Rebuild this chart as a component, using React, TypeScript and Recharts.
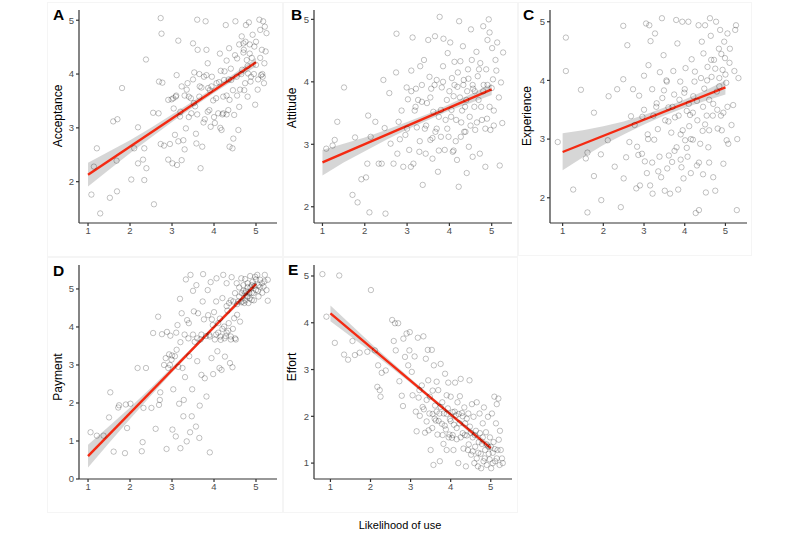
import React from 'react';
import { ComposedChart, Scatter, Line, Area, XAxis, YAxis } from 'recharts';

type Pt = [number, number];
type Band = [number, number, number];

const xTicks = [1, 2, 3, 4, 5];
const xLabel = 'Likelihood of use';

// A - Acceptance
const acceptancePoints: Pt[] = [
  [1.08, 1.76], [1.29, 1.41], [1.21, 2.62], [1.14, 2.28], [1.52, 1.7], [1.69, 1.82], [1.68, 2.39], [1.6, 3.12],
  [1.7, 3.16], [1.81, 3.74], [2.03, 2.04], [2.19, 3.01], [2.1, 2.62], [2.19, 2.34], [2.31, 2.41], [2.34, 2.03],
  [2.39, 2.25], [2.38, 4.27], [2.34, 2.62], [2.57, 1.58], [2.55, 3.28], [2.68, 3.27], [2.73, 5.04], [2.75, 4.75],
  [2.69, 3.86], [2.77, 3.84], [2.73, 2.7], [2.81, 2.67], [2.91, 2.41], [3.01, 2.34], [2.99, 3.53], [3.04, 3.36],
  [3.07, 2.87], [3.11, 3.98], [3.15, 4.62], [3.23, 2.4], [3.12, 2.31], [3.09, 3.58], [3.19, 3.21], [3.27, 2.77],
  [3.33, 2.99], [3.37, 3.83], [3.4, 3.58], [3.46, 3.27], [3.5, 4.57], [3.53, 4.03], [3.57, 2.89], [3.58, 2.71],
  [3.6, 5.01], [3.61, 4.45], [3.65, 3.58], [3.68, 2.25], [3.72, 2.65], [3.76, 3.95], [3.78, 3.16], [3.8, 4.98],
  [3.82, 4.45], [3.85, 4.2], [3.86, 3.74], [3.89, 3.33], [3.92, 3.02], [3.98, 3.51], [4.02, 3.09], [4.06, 3.83],
  [4.1, 3.27], [4.14, 4.38], [4.16, 4.06], [4.18, 2.96], [4.22, 3.58], [4.24, 3.89], [4.28, 4.91], [4.3, 4.25],
  [4.34, 3.33], [4.36, 4.48], [4.37, 3.52], [4.41, 3.89], [4.44, 2.62], [4.46, 2.8], [4.48, 3.24], [4.51, 4.98],
  [4.54, 3.95], [4.55, 4.29], [4.58, 2.96], [4.6, 3.39], [4.62, 3.71], [4.66, 4.7], [4.67, 4.08], [4.7, 4.57],
  [4.71, 4.45], [4.74, 3.83], [4.76, 4.91], [4.78, 4.26], [4.8, 3.58], [4.81, 4.01], [4.83, 4.96], [4.85, 4.38],
  [4.87, 3.86], [4.92, 4.73], [4.96, 4.51], [4.98, 3.43], [5.0, 4.17], [5.04, 3.71], [5.08, 5.01], [5.1, 4.82],
  [5.12, 3.98], [5.14, 4.45], [5.17, 4.98], [5.19, 3.83], [5.21, 4.88], [5.23, 4.42], [5.25, 4.76], [5.16, 3.95],
  [3.82, 3.98], [3.94, 3.77], [3.66, 3.77], [3.52, 3.46], [3.35, 3.71], [3.23, 3.77], [3.03, 3.55], [2.91, 3.52],
  [4.22, 3.27], [4.37, 2.65], [3.3, 3.6], [3.45, 3.55], [3.55, 3.4], [3.7, 3.75], [3.75, 3.1], [3.9, 3.7],
  [3.95, 3.95], [4.05, 3.55], [4.12, 3.85], [4.2, 3.25], [4.25, 4.05], [4.3, 3.6], [4.35, 3.9], [4.4, 4.1],
  [4.45, 3.7], [4.5, 4.35], [4.55, 3.6], [4.6, 4.55], [4.65, 4.0], [4.7, 4.4], [4.72, 3.7], [4.75, 4.6],
  [4.8, 4.15], [4.85, 4.55], [4.88, 3.95], [4.9, 4.3], [4.95, 4.0], [5.0, 4.6], [5.05, 3.9], [5.1, 4.3],
  [5.15, 4.0], [5.2, 4.2], [3.1, 3.6], [3.2, 3.3], [3.4, 3.2], [3.6, 3.25], [3.85, 3.3], [4.0, 3.2],
  [4.15, 3.0], [4.3, 3.25], [3.5, 3.9], [3.65, 4.0], [2.95, 2.7], [3.15, 2.75], [3.3, 2.6],
];
const acceptanceFit: Pt[] = [[1, 2.13], [5, 4.22]];
const acceptanceBand: Band[] = [
  [1, 1.91, 2.35], [1.5, 2.22, 2.56], [2, 2.53, 2.77], [2.5, 2.82, 3.0], [3, 3.11, 3.25],
  [3.5, 3.385, 3.495], [4, 3.65, 3.75], [4.5, 3.9, 4.02], [5, 4.14, 4.3],
];

// B - Attitude
const attitudePoints: Pt[] = [
  [1.09, 2.93], [1.24, 2.98], [1.29, 3.07], [1.35, 3.36], [1.51, 3.91], [1.71, 2.19], [1.77, 3.11], [1.83, 2.07],
  [1.92, 2.44], [2.03, 2.47], [2.06, 2.69], [2.08, 3.46], [2.11, 1.91], [2.14, 3.12], [2.25, 3.36], [2.33, 2.69],
  [2.4, 2.69], [2.44, 4.03], [2.47, 3.26], [2.49, 1.89], [2.58, 3.82], [2.61, 3.01], [2.68, 2.69], [2.74, 4.15],
  [2.75, 4.77], [2.77, 2.85], [2.8, 3.36], [2.83, 3.08], [2.87, 3.54], [2.91, 2.64], [2.96, 3.15], [2.99, 3.91],
  [3.02, 3.72], [3.05, 2.91], [3.09, 2.64], [3.1, 4.18], [3.13, 4.71], [3.15, 2.69], [3.18, 3.54], [3.21, 3.89],
  [3.23, 3.27], [3.26, 3.71], [3.29, 2.88], [3.31, 4.25], [3.35, 3.68], [3.37, 2.35], [3.4, 4.35], [3.42, 3.25],
  [3.44, 2.85], [3.47, 3.66], [3.5, 4.67], [3.53, 4.08], [3.55, 3.07], [3.57, 3.89], [3.6, 2.77], [3.62, 3.52],
  [3.66, 4.73], [3.67, 3.2], [3.7, 4.03], [3.73, 2.56], [3.75, 3.44], [3.77, 5.04], [3.8, 3.12], [3.82, 3.91],
  [3.85, 4.25], [3.86, 4.69], [3.89, 2.91], [3.91, 3.39], [3.94, 3.71], [3.96, 4.46], [3.98, 3.12], [4.02, 4.63],
  [4.04, 3.44], [4.06, 4.06], [4.08, 2.88], [4.1, 3.77], [4.12, 4.32], [4.16, 3.39], [4.18, 2.75], [4.19, 3.92],
  [4.22, 2.32], [4.23, 4.97], [4.26, 4.33], [4.27, 3.12], [4.3, 3.54], [4.32, 4.57], [4.34, 4.03], [4.38, 3.2],
  [4.4, 3.71], [4.41, 2.54], [4.44, 4.2], [4.46, 2.96], [4.48, 3.44], [4.51, 4.84], [4.53, 4.35], [4.56, 3.89],
  [4.59, 3.6], [4.61, 3.23], [4.64, 4.48], [4.67, 4.09], [4.69, 3.71], [4.72, 2.85], [4.73, 4.3], [4.77, 3.39],
  [4.8, 4.89], [4.81, 3.95], [4.85, 2.64], [4.87, 4.2], [4.89, 3.41], [4.9, 4.67], [4.93, 5.0], [4.95, 4.79],
  [4.97, 3.23], [5.01, 4.54], [5.03, 4.04], [5.05, 3.54], [5.09, 4.35], [5.11, 4.18], [5.13, 4.63], [5.17, 3.75],
  [5.19, 2.66], [5.22, 3.99], [5.25, 3.34], [5.27, 4.47], [3.2, 3.6], [3.35, 3.95], [3.45, 3.3], [3.55, 3.75],
  [3.65, 3.95], [3.7, 3.25], [3.8, 3.55], [3.85, 4.0], [3.95, 3.25], [4.0, 3.85], [4.05, 3.55], [4.12, 3.95],
  [4.15, 3.05], [4.2, 4.15], [4.25, 3.75], [4.28, 3.35], [4.33, 3.95], [4.37, 3.6], [4.42, 3.85], [4.45, 4.05],
  [4.5, 3.3], [4.55, 3.95], [4.6, 3.85], [4.65, 3.35], [4.7, 4.2], [4.75, 3.6], [4.8, 3.85], [4.85, 3.25],
  [4.9, 3.95], [4.95, 3.6], [5.0, 3.9], [5.05, 3.3], [3.0, 3.25], [3.1, 3.85], [3.3, 3.05], [3.6, 3.1],
  [3.75, 2.9], [4.1, 2.9], [4.35, 3.2], [4.55, 2.8],
];
const attitudeFit: Pt[] = [[1, 2.71], [5, 3.88]];
const attitudeBand: Band[] = [
  [1, 2.5, 2.91], [1.5, 2.71, 3.01], [2, 2.89, 3.11], [2.5, 3.07, 3.23], [3, 3.235, 3.355],
  [3.5, 3.39, 3.49], [4, 3.54, 3.64], [4.5, 3.66, 3.8], [5, 3.79, 3.97],
];

// C - Experience
const experiencePoints: Pt[] = [
  [0.88, 2.95], [1.08, 4.73], [1.08, 4.16], [1.26, 2.14], [1.45, 3.84], [1.57, 2.67], [1.61, 2.77], [1.61, 1.75],
  [1.77, 2.37], [1.77, 3.45], [1.94, 2.74], [1.95, 1.96], [2.11, 2.98], [2.13, 3.73], [2.28, 2.53], [2.34, 3.85],
  [2.43, 1.84], [2.49, 4.93], [2.49, 4.02], [2.5, 2.33], [2.56, 2.69], [2.59, 4.6], [2.64, 2.95], [2.68, 3.39],
  [2.73, 3.85], [2.77, 3.24], [2.81, 2.16], [2.83, 2.87], [2.86, 2.73], [2.88, 3.74], [2.9, 2.21], [2.96, 3.38],
  [3.0, 4.08], [3.02, 2.62], [3.05, 4.97], [3.07, 2.42], [3.09, 3.08], [3.11, 4.26], [3.13, 4.94], [3.15, 2.21],
  [3.16, 4.67], [3.2, 3.85], [3.21, 2.07], [3.23, 3.4], [3.25, 2.99], [3.27, 4.8], [3.31, 3.61], [3.34, 3.17],
  [3.38, 2.7], [3.39, 4.14], [3.42, 2.35], [3.44, 5.06], [3.48, 4.43], [3.49, 3.83], [3.51, 2.12], [3.52, 3.32],
  [3.56, 3.98], [3.57, 2.5], [3.6, 3.54], [3.61, 2.72], [3.64, 2.07], [3.67, 3.11], [3.69, 2.61], [3.72, 4.16],
  [3.74, 3.76], [3.76, 3.37], [3.79, 5.03], [3.8, 2.86], [3.82, 4.63], [3.84, 2.14], [3.87, 3.67], [3.89, 3.98],
  [3.9, 3.08], [3.92, 2.52], [3.94, 5.0], [3.97, 2.33], [3.99, 3.79], [4.01, 2.98], [4.02, 4.21], [4.05, 3.48],
  [4.07, 2.7], [4.09, 5.0], [4.11, 3.22], [4.13, 3.41], [4.15, 2.42], [4.17, 4.36], [4.2, 2.99], [4.21, 3.73],
  [4.24, 3.98], [4.27, 1.74], [4.3, 2.55], [4.31, 3.32], [4.34, 4.94], [4.35, 1.79], [4.38, 2.92], [4.4, 4.04],
  [4.42, 4.66], [4.44, 3.14], [4.46, 4.46], [4.48, 3.86], [4.5, 4.94], [4.52, 2.09], [4.54, 3.4], [4.56, 4.23],
  [4.58, 2.86], [4.6, 3.67], [4.62, 5.06], [4.64, 4.76], [4.66, 4.06], [4.69, 3.4], [4.7, 2.35], [4.72, 4.35],
  [4.75, 2.12], [4.77, 5.0], [4.79, 3.81], [4.81, 3.18], [4.84, 4.54], [4.85, 4.04], [4.87, 4.86], [4.89, 3.4],
  [4.91, 3.15], [4.93, 4.18], [4.95, 2.58], [4.97, 4.66], [4.99, 4.38], [5.02, 3.96], [5.03, 2.98], [5.05, 4.8],
  [5.07, 2.92], [5.11, 4.54], [5.15, 3.24], [5.19, 3.58], [5.22, 4.16], [5.26, 4.94], [5.28, 1.79], [5.29, 3.0],
  [5.32, 4.04], [5.24, 4.86], [3.3, 3.55], [3.45, 3.7], [3.55, 4.0], [3.6, 3.3], [3.7, 3.55], [3.75, 2.8],
  [3.85, 3.4], [3.95, 3.15], [4.0, 3.85], [4.05, 2.85], [4.1, 3.6], [4.15, 3.0], [4.2, 3.45], [4.25, 4.15],
  [4.3, 3.65], [4.35, 2.6], [4.45, 3.55], [4.5, 3.25], [4.55, 4.0], [4.6, 3.15], [4.65, 4.35], [4.7, 3.6],
  [4.75, 4.2], [4.8, 3.5], [4.85, 3.9], [4.9, 4.45], [4.95, 3.45], [5.0, 4.1], [5.05, 3.55], [5.1, 4.3],
  [3.2, 2.6], [3.35, 2.45], [3.9, 2.65], [4.45, 2.4], [4.6, 2.6], [3.0, 3.5], [3.1, 3.0], [2.95, 2.75],
];
const experienceFit: Pt[] = [[1, 2.78], [5, 3.88]];
const experienceBand: Band[] = [
  [1, 2.47, 3.1], [1.5, 2.69, 3.15], [2, 2.9, 3.22], [2.5, 3.08, 3.3], [3, 3.25, 3.41],
  [3.5, 3.4, 3.54], [4, 3.535, 3.675], [4.5, 3.65, 3.83], [5, 3.76, 4.0],
];

// D - Payment
const paymentPoints: Pt[] = [
  [1.06, 1.23], [1.21, 1.14], [1.37, 1.14], [1.5, 1.62], [1.53, 2.28], [1.61, 0.72], [1.72, 1.88], [1.74, 1.94],
  [1.88, 0.68], [1.9, 1.96], [1.93, 1.34], [2.01, 1.98], [2.18, 2.92], [2.28, 0.73], [2.3, 0.97], [2.32, 1.87],
  [2.38, 2.92], [2.51, 1.87], [2.55, 3.84], [2.61, 1.32], [2.67, 4.27], [2.69, 1.95], [2.71, 2.08], [2.72, 2.28],
  [2.76, 3.81], [2.81, 3.0], [2.85, 3.18], [2.87, 0.79], [2.88, 3.87], [2.91, 2.92], [2.93, 3.28], [2.96, 3.77],
  [2.99, 3.14], [3.01, 1.3], [3.03, 2.36], [3.07, 3.23], [3.09, 1.12], [3.11, 3.4], [3.13, 4.05], [3.17, 1.98],
  [3.19, 4.74], [3.2, 0.81], [3.23, 4.36], [3.25, 2.92], [3.27, 1.65], [3.28, 2.08], [3.31, 2.68], [3.33, 5.25],
  [3.35, 0.99], [3.36, 4.18], [3.39, 3.7], [3.41, 3.23], [3.43, 1.23], [3.44, 5.37], [3.47, 1.65], [3.48, 2.36],
  [3.5, 4.95], [3.52, 4.41], [3.54, 3.61], [3.57, 1.38], [3.58, 5.1], [3.6, 3.1], [3.62, 4.36], [3.65, 1.08],
  [3.66, 1.93], [3.68, 3.67], [3.7, 2.74], [3.73, 4.67], [3.74, 5.39], [3.76, 4.2], [3.78, 2.65], [3.81, 3.76],
  [3.82, 2.17], [3.85, 4.97], [3.86, 4.31], [3.89, 3.79], [3.9, 0.7], [3.92, 5.18], [3.94, 3.18], [3.97, 4.05],
  [3.98, 2.76], [4.0, 4.39], [4.02, 3.67], [4.05, 4.67], [4.06, 5.28], [4.08, 3.36], [4.1, 3.85], [4.13, 2.92],
  [4.14, 4.22], [4.16, 3.66], [4.18, 2.87], [4.2, 4.76], [4.22, 5.37], [4.24, 4.01], [4.26, 3.22], [4.28, 3.76],
  [4.3, 5.15], [4.32, 4.43], [4.34, 3.9], [4.36, 4.63], [4.38, 3.05], [4.4, 3.67], [4.42, 5.31], [4.44, 2.94],
  [4.46, 4.67], [4.48, 4.23], [4.5, 4.89], [4.52, 3.67], [4.54, 5.15], [4.55, 4.32], [4.58, 4.67], [4.6, 5.04],
  [4.62, 4.14], [4.65, 5.28], [4.66, 4.89], [4.68, 4.67], [4.7, 5.1], [4.72, 4.63], [4.74, 5.26], [4.76, 4.94],
  [4.78, 4.8], [4.8, 5.15], [4.82, 4.63], [4.84, 4.89], [4.86, 5.34], [4.87, 5.04], [4.9, 4.71], [4.92, 5.19],
  [4.94, 4.89], [4.96, 5.08], [4.98, 5.32], [5.0, 4.97], [5.03, 5.37], [5.06, 5.1], [5.1, 5.24], [5.14, 5.15],
  [5.18, 5.06], [5.21, 5.37], [5.25, 4.97], [5.28, 5.24], [5.28, 4.69], [5.06, 4.8], [4.74, 4.89], [4.05, 3.8],
  [4.1, 4.1], [4.15, 3.75], [4.2, 3.95], [4.25, 3.7], [4.3, 3.85], [4.35, 4.1], [4.4, 3.75], [4.45, 3.95],
  [4.5, 3.7], [4.55, 4.6], [4.6, 4.8], [4.65, 4.65], [4.7, 4.95], [4.75, 4.7], [4.8, 5.05], [4.85, 4.75],
  [4.9, 5.1], [4.95, 4.7], [5.0, 5.25], [5.05, 4.95], [5.1, 5.05], [5.15, 4.9], [5.2, 5.2], [4.9, 4.9],
  [4.8, 4.8], [3.9, 3.75], [3.95, 4.2], [3.7, 3.8], [3.6, 3.7], [3.5, 3.8], [3.4, 4.1], [3.3, 3.8],
  [3.2, 3.6], [3.1, 3.85], [3.0, 3.25], [2.95, 3.0], [3.15, 2.95], [4.4, 4.7], [4.3, 4.55],
];
const paymentFit: Pt[] = [[1, 0.6], [5, 5.13]];
const paymentBand: Band[] = [
  [1, 0.3, 0.9], [1.5, 0.95, 1.39], [2, 1.58, 1.88], [2.5, 2.2, 2.4], [3, 2.8, 2.94],
  [3.5, 3.38, 3.48], [4, 3.95, 4.05], [4.5, 4.5, 4.62], [5, 5.05, 5.21],
];

// E - Effort
const effortPoints: Pt[] = [
  [0.8, 5.04], [0.9, 4.13], [1.22, 5.01], [1.11, 3.57], [1.34, 3.32], [1.44, 3.21], [1.55, 3.61], [1.61, 3.31],
  [1.73, 3.36], [1.92, 3.38], [2.01, 4.7], [2.11, 3.41], [2.17, 2.63], [2.19, 3.09], [2.23, 2.56], [2.25, 2.42],
  [2.28, 2.93], [2.38, 2.98], [2.54, 4.06], [2.58, 3.61], [2.61, 3.99], [2.63, 3.41], [2.69, 3.99], [2.72, 2.75],
  [2.78, 2.44], [2.81, 2.22], [2.82, 3.66], [2.86, 3.27], [2.9, 3.77], [2.94, 3.09], [2.97, 3.41], [2.98, 3.8],
  [3.03, 2.95], [3.05, 2.45], [3.1, 3.28], [3.13, 2.1], [3.15, 1.68], [3.18, 3.68], [3.22, 2.56], [3.23, 2.01],
  [3.28, 2.66], [3.32, 3.71], [3.33, 2.15], [3.36, 1.65], [3.38, 3.23], [3.4, 1.89], [3.43, 3.42], [3.44, 2.77],
  [3.47, 2.06], [3.48, 2.42], [3.5, 1.28], [3.53, 3.42], [3.54, 1.75], [3.57, 0.96], [3.58, 3.09], [3.61, 2.23],
  [3.63, 1.91], [3.65, 2.74], [3.67, 1.61], [3.69, 2.56], [3.72, 2.06], [3.73, 1.04], [3.75, 3.12], [3.78, 1.84],
  [3.79, 2.3], [3.82, 1.41], [3.83, 2.06], [3.86, 2.91], [3.88, 1.72], [3.9, 1.28], [3.93, 2.17], [3.94, 2.72],
  [3.97, 1.61], [3.98, 1.94], [4.0, 2.42], [4.03, 1.54], [4.05, 2.09], [4.07, 1.28], [4.08, 1.82], [4.11, 2.72],
  [4.13, 2.02], [4.15, 1.51], [4.17, 2.3], [4.19, 1.0], [4.22, 1.85], [4.23, 2.43], [4.25, 2.8], [4.28, 2.07],
  [4.3, 1.64], [4.32, 1.31], [4.34, 2.19], [4.36, 1.85], [4.38, 0.93], [4.4, 1.59], [4.43, 1.28], [4.44, 2.06],
  [4.47, 2.77], [4.48, 1.78], [4.51, 1.18], [4.53, 2.26], [4.55, 1.55], [4.57, 1.99], [4.59, 1.0], [4.61, 1.35],
  [4.63, 1.69], [4.65, 2.3], [4.68, 0.93], [4.69, 1.22], [4.72, 2.06], [4.73, 1.64], [4.76, 0.89], [4.78, 1.41],
  [4.8, 1.85], [4.82, 1.04], [4.83, 2.19], [4.86, 1.28], [4.88, 1.66], [4.9, 0.96], [4.93, 1.99], [4.94, 1.35],
  [4.97, 1.08], [4.98, 1.55], [5.01, 0.89], [5.03, 2.06], [5.05, 1.22], [5.07, 1.45], [5.09, 2.42], [5.11, 1.04],
  [5.13, 1.85], [5.15, 2.26], [5.17, 1.28], [5.19, 2.38], [5.22, 0.96], [5.23, 1.69], [5.25, 1.28], [5.28, 1.1],
  [5.3, 1.0], [3.55, 2.05], [3.6, 1.95], [3.65, 2.1], [3.7, 1.9], [3.75, 2.2], [3.8, 1.6], [3.85, 1.8],
  [3.9, 2.05], [3.95, 1.55], [4.0, 1.9], [4.05, 1.6], [4.1, 2.1], [4.15, 1.75], [4.2, 2.05], [4.25, 1.55],
  [4.3, 2.0], [4.35, 1.6], [4.4, 1.95], [4.45, 1.4], [4.5, 1.65], [4.55, 1.25], [4.6, 1.6], [4.65, 1.1],
  [4.7, 1.45], [4.75, 1.2], [4.8, 1.55], [4.85, 1.1], [4.9, 1.4], [4.95, 1.2], [5.0, 1.35], [5.05, 1.0],
  [5.1, 1.3], [5.15, 1.1], [5.2, 1.5], [3.4, 2.35], [3.3, 2.2], [3.2, 2.4], [3.45, 1.7], [3.55, 2.55],
  [3.9, 2.45],
];
const effortFit: Pt[] = [[1, 4.2], [5, 1.32]];
const effortBand: Band[] = [
  [1, 4.03, 4.37], [1.5, 3.71, 3.97], [2, 3.39, 3.57], [2.5, 3.055, 3.185], [3, 2.71, 2.81],
  [3.5, 2.36, 2.44], [4, 2.0, 2.08], [4.5, 1.63, 1.73], [5, 1.25, 1.39],
];

// layout: plot rectangle in page pixels, domains, label anchors
const panels = [
  { letter: 'A', title: 'Acceptance', points: acceptancePoints, fit: acceptanceFit, band: acceptanceBand,
    yTicks: [2, 3, 4, 5], xDomain: [0.785, 5.5], yDomain: [1.232, 5.19],
    x0: 79, x1: 277, y0: 10, y1: 223, lx: 53, ly: 20, tx: 61.5, ty: 116 },
  { letter: 'B', title: 'Attitude', points: attitudePoints, fit: attitudeFit, band: attitudeBand,
    yTicks: [2, 3, 4, 5], xDomain: [0.8, 5.48], yDomain: [1.74, 5.15],
    x0: 314, x1: 512, y0: 10, y1: 223, lx: 291, ly: 20, tx: 296, ty: 108 },
  { letter: 'C', title: 'Experience', points: experiencePoints, fit: experienceFit, band: experienceBand,
    yTicks: [2, 3, 4, 5], xDomain: [0.69, 5.53], yDomain: [1.57, 5.2],
    x0: 550, x1: 747, y0: 10, y1: 223, lx: 523, ly: 20, tx: 531, ty: 116 },
  { letter: 'D', title: 'Payment', points: paymentPoints, fit: paymentFit, band: paymentBand,
    yTicks: [0, 1, 2, 3, 4, 5], xDomain: [0.785, 5.5], yDomain: [0, 5.63],
    x0: 79, x1: 277, y0: 265, y1: 479, lx: 53, ly: 276, tx: 61.5, ty: 377 },
  { letter: 'E', title: 'Effort', points: effortPoints, fit: effortFit, band: effortBand,
    yTicks: [1, 2, 3, 4, 5], xDomain: [0.59, 5.53], yDomain: [0.66, 5.235],
    x0: 314, x1: 512, y0: 265, y1: 479, lx: 288, ly: 275, tx: 295.5, ty: 367 },
];

const frames = [
  { left: 47, top: 2, width: 236, height: 255 },
  { left: 283, top: 2, width: 235, height: 255 },
  { left: 518, top: 2, width: 234, height: 254 },
  { left: 47, top: 257, width: 236, height: 256 },
  { left: 283, top: 257, width: 235, height: 256 },
];

const FONT = '"Liberation Sans", Arial, Helvetica, sans-serif';
const tickStyle = { fill: '#4d4d4d', fontSize: 9.5, fontFamily: FONT };
const axisStroke = { stroke: '#333', strokeWidth: 1.2 };

const Ring = (props: any) => {
  if (props.cx == null || props.cy == null) return null;
  return (
    <circle cx={props.cx} cy={props.cy} r={2.7} fill="none"
      stroke="#000" strokeOpacity={0.3} strokeWidth={0.8} />
  );
};

function Panel({ p }: { p: any }) {
  const w = p.x1 - p.x0 + 50;
  const h = p.y1 - p.y0 + 40;
  const scatter = p.points.map(([x, y]: Pt) => ({ x, y }));
  const fit = p.fit.map(([x, y]: Pt) => ({ x, y }));
  const band = p.band.map(([x, lo, hi]: Band) => ({ x, band: [lo, hi] }));
  return (
    <div style={{ position: 'absolute', left: p.x0 - 40, top: p.y0 - 10 }}>
      <ComposedChart width={w} height={h} margin={{ top: 10, right: 10, left: 16, bottom: 0 }}>
        <XAxis type="number" dataKey="x" domain={p.xDomain} ticks={xTicks} allowDataOverflow
          interval={0} height={30} tickSize={3} tickMargin={1}
          axisLine={axisStroke} tickLine={axisStroke} tick={tickStyle} />
        <YAxis type="number" dataKey="y" domain={p.yDomain} ticks={p.yTicks} allowDataOverflow
          interval={0} width={24} tickSize={3} tickMargin={2}
          axisLine={axisStroke} tickLine={axisStroke} tick={tickStyle} />
        <Scatter data={scatter} shape={Ring} isAnimationActive={false} />
        <Area data={band} dataKey="band" type="linear" stroke="none" fill="#999"
          fillOpacity={0.4} isAnimationActive={false} dot={false} activeDot={false} />
        <Line data={fit} dataKey="y" type="linear" stroke="#f42a12" strokeWidth={2.4}
          dot={false} activeDot={false} isAnimationActive={false} />
      </ComposedChart>
    </div>
  );
}

export default function App() {
  return (
    <div style={{ position: 'absolute', left: 0, top: 0, width: 800, height: 533, background: '#fff', fontFamily: FONT }}>
      {frames.map((f, i) => (
        <div key={i} style={{ position: 'absolute', ...f, border: '1px solid #f5f5f5', boxSizing: 'border-box' }} />
      ))}
      {panels.map((p) => <Panel key={p.letter} p={p} />)}
      <svg width={800} height={533} style={{ position: 'absolute', left: 0, top: 0, pointerEvents: 'none' }}>
        {panels.map((p) => (
          <g key={p.letter}>
            <text x={p.lx} y={p.ly} fontSize={15.5} fontWeight="bold" fill="#000" fontFamily={FONT}>{p.letter}</text>
            <text transform={`translate(${p.tx},${p.ty}) rotate(-90)`} textAnchor="middle"
              fontSize={12} fill="#000" fontFamily={FONT}>{p.title}</text>
          </g>
        ))}
        <text x={400} y={528.5} textAnchor="middle" fontSize={11} fill="#000" fontFamily={FONT}>{xLabel}</text>
      </svg>
    </div>
  );
}
